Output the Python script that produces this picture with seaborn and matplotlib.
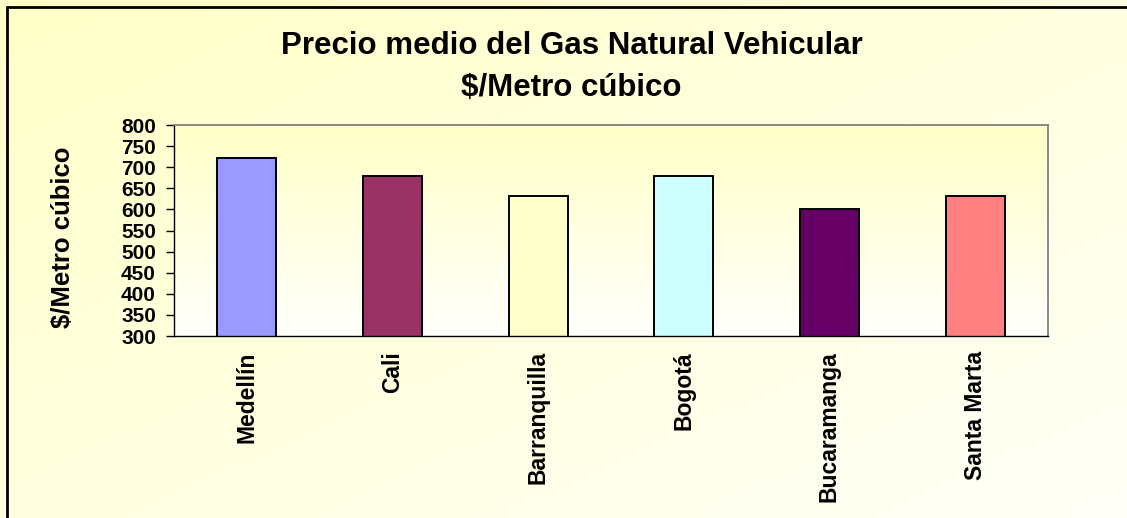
import numpy as np
import pandas as pd
import seaborn as sns
import matplotlib.pyplot as plt
from matplotlib.lines import Line2D
from matplotlib.colors import LinearSegmentedColormap

# Datos
ciudades = ['Medellín', 'Cali', 'Barranquilla', 'Bogotá', 'Bucaramanga', 'Santa Marta']
precios = [721, 679, 632, 679, 600, 632]
colores = ['#9999FF', '#993366', '#FFFFCC', '#CCFFFF', '#660066', '#FF8080']
yticks = [300, 350, 400, 450, 500, 550, 600, 650, 700, 750, 800]

df = pd.DataFrame({'ciudad': ciudades, 'precio': precios})

sns.set_style('white')
plt.rcParams['font.family'] = ['Liberation Sans', 'DejaVu Sans']
plt.rcParams['font.weight'] = 'bold'
plt.rcParams['text.color'] = 'black'
plt.rcParams['axes.labelcolor'] = 'black'
plt.rcParams['xtick.color'] = 'black'
plt.rcParams['ytick.color'] = 'black'

fig = plt.figure(figsize=(11.27, 5.18), dpi=100)

# Fondo degradado de la figura (diagonal, amarillo -> blanco)
bg = fig.add_axes([0, 0, 1, 1], zorder=-10)
yy, xx = np.mgrid[0:1:200j, 0:1:400j]
grad = (xx + yy) / 2
cmap_fig = LinearSegmentedColormap.from_list('fig', ['#FFFFC8', '#FFFFF8'])
bg.imshow(grad, cmap=cmap_fig, aspect='auto', extent=[0, 1, 0, 1], origin='upper')
bg.set_axis_off()

# Borde (solo arriba e izquierda visibles)
fig.add_artist(Line2D([7 / 1127, 1], [1 - 7 / 518, 1 - 7 / 518], color='black', lw=2))
fig.add_artist(Line2D([7 / 1127, 7 / 1127], [0, 1 - 7 / 518], color='black', lw=2))

ax = fig.add_axes([174 / 1127, 1 - 336 / 518, 874 / 1127, 211 / 518])
ax.patch.set_alpha(0)

# Degradado del area de trazado (vertical)
cmap_ax = LinearSegmentedColormap.from_list('ax', ['#FFFFFC', '#FFFFC8'])
ax.imshow(np.linspace(0, 1, 100).reshape(-1, 1), cmap=cmap_ax, aspect='auto',
          extent=[0, 1, 0, 1], origin='lower', transform=ax.transAxes, zorder=0)

sns.barplot(data=df, x='ciudad', y='precio', hue='ciudad',
            palette=dict(zip(ciudades, colores)), legend=False, saturation=1,
            width=0.405, edgecolor='black', linewidth=1.4, ax=ax, zorder=2)

ax.set_xlim(-0.5, len(ciudades) - 0.5)
ax.set_ylim(300, 800)
ax.set_yticks(yticks)
ax.set_yticklabels([str(v) for v in yticks], fontsize=15, fontweight='bold')
ax.set_xticks(range(len(ciudades)))
ax.set_xticklabels(ciudades, rotation=90, fontsize=16.5, fontweight='bold', va='top')
ax.set_xticks(np.arange(-0.5, len(ciudades)), minor=True)
ax.tick_params(axis='x', which='major', length=0, pad=11)
ax.tick_params(axis='x', which='minor', length=6, width=1, color='black', direction='out')
ax.tick_params(axis='y', length=6, width=1, color='black', direction='out', pad=7, left=True)

ax.set_xlabel('')
ax.set_ylabel('$/Metro cúbico', fontsize=18.5, fontweight='bold')
ax.yaxis.set_label_coords(-0.113, 0.47)

for s in ['left', 'bottom']:
    ax.spines[s].set_color('black')
    ax.spines[s].set_linewidth(1)
for s in ['top', 'right']:
    ax.spines[s].set_color('#808080')
    ax.spines[s].set_linewidth(1.3)
    ax.spines[s].set_visible(True)

fig.text(0.507, 1 - 46 / 518, 'Precio medio del Gas Natural Vehicular',
         ha='center', va='center', fontsize=22.5, fontweight='bold')
fig.text(0.507, 1 - 88 / 518, '$/Metro cúbico',
         ha='center', va='center', fontsize=22.5, fontweight='bold')

fig.savefig('out.png', dpi=100)
